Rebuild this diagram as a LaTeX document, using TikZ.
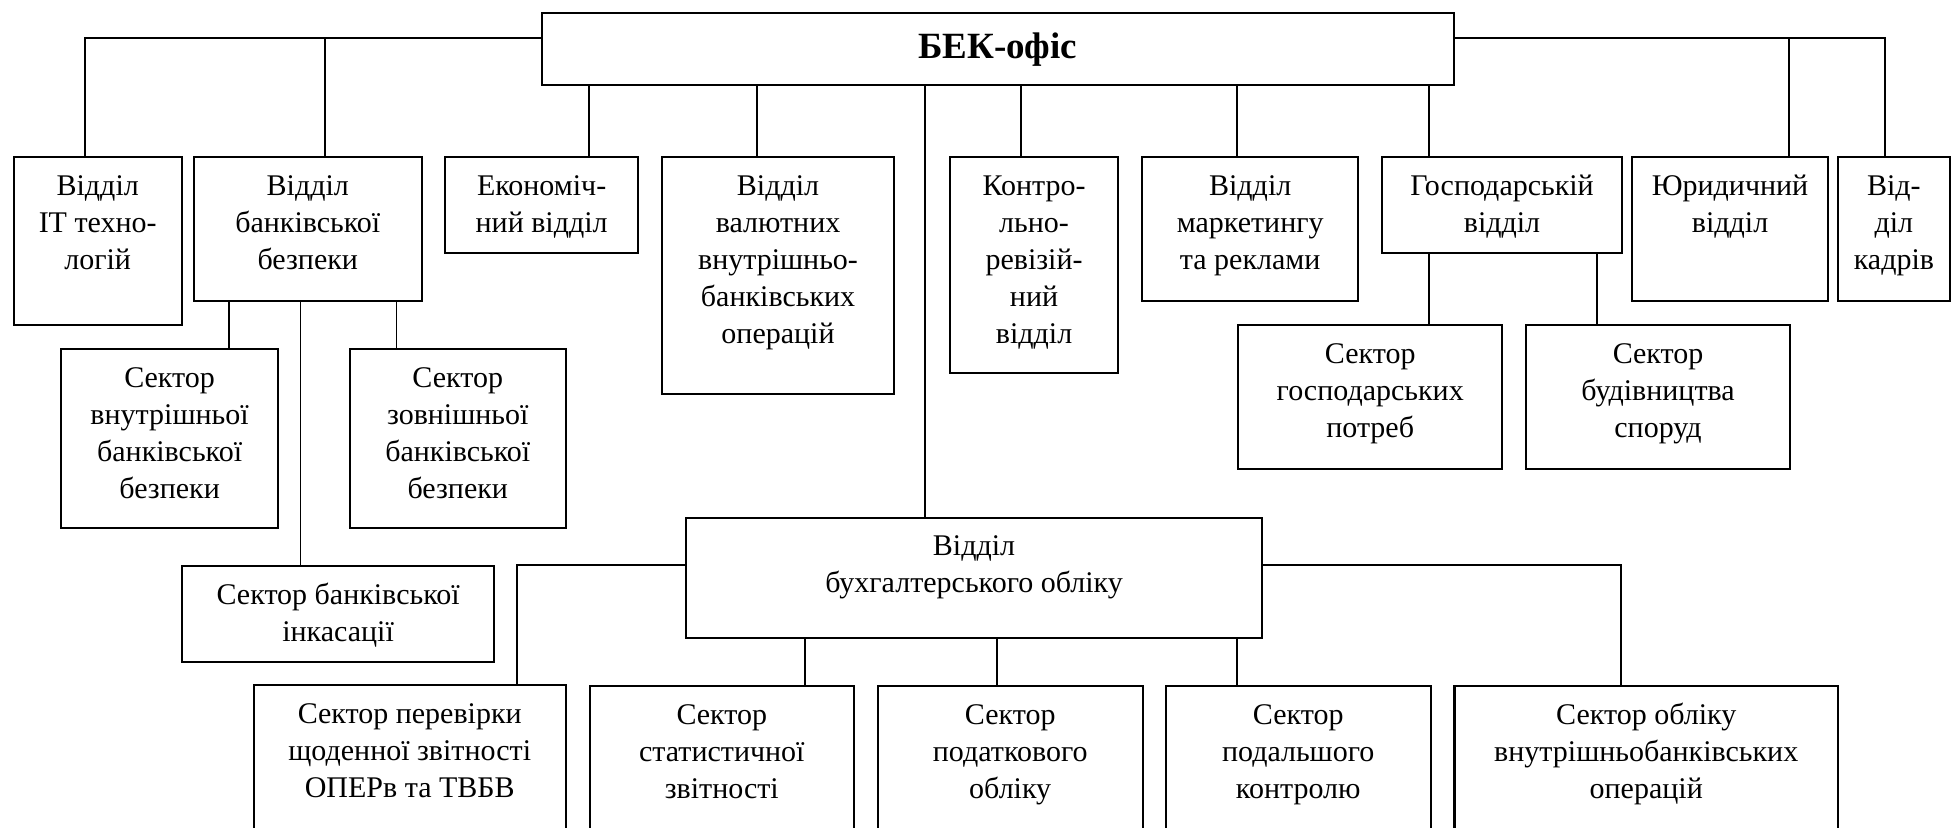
\documentclass[tikz,border=0pt]{standalone}
\usepackage{fontspec}
\setmainfont{Liberation Serif}
\tikzset{
  box/.style={draw, line width=1.05pt, inner sep=0pt, anchor=north west,
    font=\fontsize{15pt}{18.5pt}\selectfont},
  conn/.style={line width=0.9pt},
}
\newcommand\mybox[6]{%
  \node[box] (#1) at (#2,#3)
    {\parbox[c][\dimexpr(#5pt-#3pt)/2\relax][t]{\dimexpr(#4pt-#2pt)/2\relax}{\centering\rule{0pt}{19pt}#6\par}};}
% vertical connector: child node, x offset from its left edge, parent coordinate/anchor giving y
\newcommand\vconn[3]{%
  \coordinate (#1-in) at ([xshift=#2]#1.north west);
  \draw[conn] (#1-in) -- (#1-in |- #3);}
\begin{document}
\begin{tikzpicture}[x=0.5pt,y=-0.5pt]
\useasboundingbox (0,0) rectangle (1951,827);
\clip (0,0) rectangle (1951,827);
% top
\node[box, minimum width=456.1pt, minimum height=36pt,
  font=\fontsize{18.5pt}{22pt}\selectfont\bfseries] (top) at (540.6,12.3) {БЕК-офіс};
% first level
\mybox{it}{12.5}{156}{180.8}{324}{Відділ\\IT техно-\\логій}
\mybox{bb}{192.9}{156}{420.5}{300}{Відділ\\банківської\\безпеки}
\mybox{econ}{444.2}{156}{637}{252.3}{Економіч-\\ний відділ}
\mybox{val}{660.7}{156}{893.3}{392.7}{Відділ\\валютних\\внутрішньо-\\банківських\\операцій}
\mybox{kontr}{949}{156}{1117}{372}{Контро-\\льно-\\ревізій-\\ний\\відділ}
\mybox{mark}{1141}{156}{1357.3}{300.3}{Відділ\\маркетингу\\та реклами}
\mybox{gosp}{1381}{156}{1620.9}{252.3}{Господарській\\відділ}
\mybox{yur}{1630.8}{156}{1827.2}{300.3}{Юридичний\\відділ}
\mybox{kadr}{1836.7}{156}{1949}{300.3}{Від-\\діл\\кадрів}
% sectors of bank security
\mybox{vn}{60.3}{348.3}{276.8}{526.7}{Сектор\\внутрішньої\\банківської\\безпеки}
\mybox{zv}{348.7}{348.3}{564.7}{526.7}{Сектор\\зовнішньої\\банківської\\безпеки}
\mybox{ink}{180.8}{565}{493.3}{660.7}{Сектор банківської\\інкасації}
% sectors of economic dept
\mybox{gp}{1237}{324.3}{1501.3}{468.3}{Сектор\\господарських\\потреб}
\mybox{bud}{1525}{324.3}{1789}{468.3}{Сектор\\будівництва\\споруд}
% accounting
\mybox{buh}{684.8}{516.7}{1261.2}{636.7}{Відділ\\бухгалтерського обліку}
\mybox{per}{252.7}{684.3}{564.7}{900}{Сектор перевірки\\щоденної звітності\\ОПЕРв та ТВБВ}
\mybox{stat}{588.8}{685}{852.7}{900}{Сектор\\статистичної\\звітності}
\mybox{pod}{876.8}{685}{1141.5}{900}{Сектор\\податкового\\обліку}
\mybox{dal}{1164.7}{685}{1429.7}{900}{Сектор\\подальшого\\контролю}
\mybox{vnb}{1453.4}{685}{1837}{900}{Сектор обліку\\внутрішньобанківських\\операцій}
% connectors
\coordinate (TL) at ([yshift=5.8pt]top.west);
\coordinate (TR) at ([yshift=5.8pt]top.east);
\draw[conn] (TL) -| ([xshift=36.15pt]it.north west);
\vconn{bb}{65.85pt}{TL}
\vconn{econ}{72.3pt}{top.south}
\vconn{val}{48.2pt}{top.south}
\vconn{buh}{119.9pt}{top.south}
\vconn{kontr}{36pt}{top.south}
\vconn{mark}{48pt}{top.south}
\vconn{gosp}{23.85pt}{top.south}
\vconn{yur}{79.1pt}{TR}
\draw[conn] (TR) -| ([xshift=24.3pt]kadr.north west);
% bank security subs
\vconn{vn}{84.35pt}{bb.south}
\vconn{zv}{23.85pt}{bb.south}
\vconn{ink}{59.8pt}{bb.south}
% economic subs
\vconn{gp}{95.85pt}{gosp.south}
\vconn{bud}{35.9pt}{gosp.south}
% accounting subs
\coordinate (BL) at ([yshift=6.2pt]buh.west);
\coordinate (BR) at ([yshift=6.2pt]buh.east);
\draw[conn] (BL) -| ([xshift=132.15pt]per.north west);
\draw[conn] (BR) -| ([xshift=83.8pt]vnb.north west);
\vconn{stat}{108.05pt}{buh.south}
\vconn{pod}{60.05pt}{buh.south}
\vconn{dal}{36.15pt}{buh.south}
\end{tikzpicture}
\end{document}
